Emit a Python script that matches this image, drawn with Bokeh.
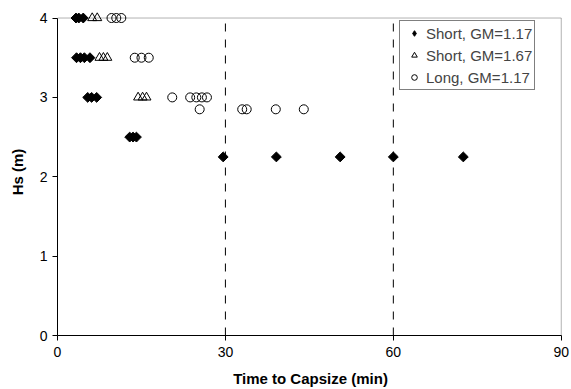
import math
from bokeh.plotting import figure
from bokeh.models import FixedTicker, Range1d, Legend, LegendItem, BoxAnnotation
from bokeh.embed import file_html
from bokeh.resources import INLINE

# Short, GM=1.17 (filled diamonds)
short117_t = [3.3, 3.8, 4.6, 3.4, 4.1, 4.8, 5.8, 5.4, 6.1, 7.0, 12.9, 13.5, 14.1,
              29.6, 39.1, 50.5, 60.0, 72.5]
short117_hs = [4, 4, 4, 3.5, 3.5, 3.5, 3.5, 3, 3, 3, 2.5, 2.5, 2.5,
               2.25, 2.25, 2.25, 2.25, 2.25]

# Short, GM=1.67 (open triangles)
short167_t = [6.2, 7.1, 7.5, 8.2, 8.9, 14.4, 15.2, 15.9]
short167_hs = [4, 4, 3.5, 3.5, 3.5, 3, 3, 3]

# Long, GM=1.17 (open circles)
long117_t = [9.65, 10.5, 11.4, 13.8, 15.0, 16.3, 20.5, 23.7, 24.8, 25.8, 26.7,
             25.4, 33.0, 33.8, 39.0, 44.0]
long117_hs = [4, 4, 4, 3.5, 3.5, 3.5, 3, 3, 3, 3, 3,
              2.85, 2.85, 2.85, 2.85, 2.85]

x_ticks = [0, 30, 60, 90]
y_ticks = [0, 1, 2, 3, 4]
ref_lines = [30, 60]

FONT = "Liberation Sans"
X0, X1 = x_ticks[0], x_ticks[-1]
Y0, Y1 = y_ticks[0], y_ticks[-1]

# ranges padded a little beyond the last ticks so markers/box edges are not clipped;
# the visible plot box is drawn as an annotation from 0..90 x 0..4
p = figure(width=571, height=389, output_backend="svg", toolbar_location=None,
           x_range=Range1d(X0, X1 + 0.4), y_range=Range1d(Y0, Y1 + 0.12),
           min_border_left=57, min_border_right=8, min_border_top=8, min_border_bottom=54)
p.background_fill_color = "white"
p.border_fill_color = "white"
p.outline_line_color = None
p.xgrid.visible = False
p.ygrid.visible = False

for ax, ticks in ((p.xaxis[0], x_ticks), (p.yaxis[0], y_ticks)):
    ax.ticker = FixedTicker(ticks=ticks)
    ax.minor_tick_line_color = None
    ax.major_tick_in = 0
    ax.major_tick_out = 5
    ax.major_tick_line_color = "black"
    ax.axis_line_color = "black"
    ax.major_label_text_font = FONT
    ax.major_label_text_font_size = "14px"
    ax.major_label_text_color = "black"
    ax.axis_label_text_font = FONT
    ax.axis_label_text_font_size = "15px"
    ax.axis_label_text_font_style = "bold"
    ax.axis_label_text_color = "black"
p.yaxis.bounds = (Y0, Y1)
p.xaxis.bounds = (X0, X1)

p.xaxis.axis_label = "Time to Capsize (min)"
p.yaxis.axis_label = "Hs (m)"
p.xaxis.major_label_standoff = 6
p.xaxis.axis_label_standoff = 10
p.yaxis.major_label_standoff = 5
p.yaxis.axis_label_standoff = 11

p.add_layout(BoxAnnotation(left=X0, right=X1, bottom=Y0, top=Y1,
                           fill_color=None, fill_alpha=0,
                           line_color="black", line_width=1))

p.segment(x0=ref_lines, y0=[Y0] * len(ref_lines), x1=ref_lines, y1=[Y1] * len(ref_lines),
          line_color="black", line_width=1, line_dash="8 8")

r1 = p.scatter(short117_t, short117_hs, marker="square", angle=math.pi / 4,
               size=7, fill_color="black", line_color="black")
r2 = p.scatter(short167_t, short167_hs, marker="triangle", size=9,
               fill_color=None, line_color="black", line_width=1)
r3 = p.scatter(long117_t, long117_hs, marker="circle", size=9,
               fill_color=None, line_color="black", line_width=1)
# hidden twin of the diamond series, used only so the legend shows a diamond glyph
r1_leg = p.scatter(short117_t, short117_hs, marker="diamond", size=9,
                   fill_color="black", line_color="black", visible=False)

legend = Legend(items=[LegendItem(label="Short, GM=1.17", renderers=[r1_leg]),
                       LegendItem(label="Short, GM=1.67", renderers=[r2]),
                       LegendItem(label="Long, GM=1.17", renderers=[r3])],
                location=(342, 245))
legend.border_line_color = "black"
legend.border_line_width = 1
legend.background_fill_color = "white"
legend.background_fill_alpha = 1
legend.inactive_fill_alpha = 0
legend.label_text_font = FONT
legend.label_text_font_size = "15px"
legend.padding = 2
legend.spacing = 2
legend.label_height = 20
legend.glyph_height = 14
legend.glyph_width = 24
legend.label_standoff = 0
legend.margin = 0
p.add_layout(legend)

open("out.html", "w").write(file_html(p, INLINE))
